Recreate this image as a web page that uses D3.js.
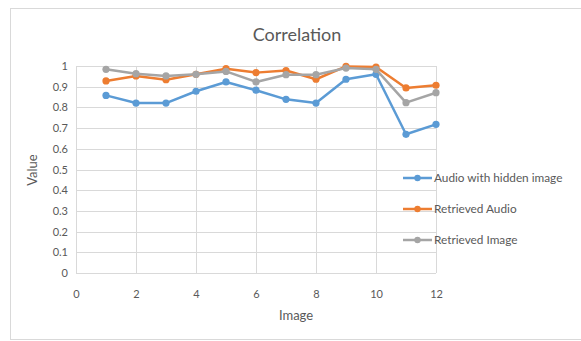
<!DOCTYPE html>
<html>
<head>
<meta charset="utf-8">
<script src="https://cdn.jsdelivr.net/npm/d3@7"></script>
<style>
  html, body { margin: 0; padding: 0; background: #fff; }
  svg text { font-family: Lato, "Open Sans", sans-serif; fill: #595959; }
</style>
</head>
<body>
<svg id="chart" width="581" height="341"></svg>
<script>
// Image index (x) and correlation values for each series
const images = [1, 2, 3, 4, 5, 6, 7, 8, 9, 10, 11, 12];
const audioHidden   = [0.858, 0.821, 0.821, 0.878, 0.923, 0.883, 0.839, 0.821, 0.936, 0.960, 0.670, 0.718];
const retrievedAudio = [0.928, 0.952, 0.934, 0.960, 0.987, 0.968, 0.978, 0.936, 0.998, 0.995, 0.894, 0.907];
const retrievedImage = [0.984, 0.963, 0.952, 0.960, 0.974, 0.923, 0.958, 0.958, 0.990, 0.984, 0.823, 0.871];
const seriesNames = ["Audio with hidden image", "Retrieved Audio", "Retrieved Image"];
const xTicks = [0, 2, 4, 6, 8, 10, 12];
const yTicks = [0, 0.1, 0.2, 0.3, 0.4, 0.5, 0.6, 0.7, 0.8, 0.9, 1];

const series = [
  { name: seriesNames[0], values: audioHidden,    color: "#5b9bd5" },
  { name: seriesNames[1], values: retrievedAudio, color: "#ed7d31" },
  { name: seriesNames[2], values: retrievedImage, color: "#a5a5a5" }
];

const svg = d3.select("#chart");

// Outer chart frame (its right edge runs past the page)
svg.append("rect")
  .attr("x", 10.5).attr("y", 8.5)
  .attr("width", 600).attr("height", 331)
  .attr("fill", "#fff").attr("stroke", "#d9d9d9").attr("stroke-width", 1);

const plot = { left: 76, right: 436, top: 66, bottom: 273 };
const x = d3.scaleLinear().domain([0, 12]).range([plot.left, plot.right]);
const y = d3.scaleLinear().domain([0, 1]).range([plot.bottom, plot.top]);

// Gridlines
svg.append("g")
  .selectAll("line")
  .data(yTicks)
  .join("line")
  .attr("x1", plot.left).attr("x2", plot.right)
  .attr("y1", d => Math.round(y(d)) + 0.5).attr("y2", d => Math.round(y(d)) + 0.5)
  .attr("stroke", "#d9d9d9").attr("stroke-width", 1);

svg.append("g")
  .selectAll("line")
  .data(xTicks)
  .join("line")
  .attr("x1", d => Math.round(x(d)) + 0.5).attr("x2", d => Math.round(x(d)) + 0.5)
  .attr("y1", plot.top).attr("y2", plot.bottom)
  .attr("stroke", "#d9d9d9").attr("stroke-width", 1);

const tickColor = "#666666";

// Axes (labels only; lines come from the grid)
const yAxis = d3.axisLeft(y).tickValues(yTicks).tickSize(0).tickPadding(8)
  .tickFormat(d => d3.format("")(+d.toFixed(1)));
svg.append("g")
  .attr("transform", `translate(${plot.left},0)`)
  .call(yAxis)
  .call(g => g.select(".domain").remove())
  .call(g => g.selectAll("text").attr("font-size", 11).attr("fill", tickColor)
    .style("font-family", "Lato, 'Open Sans', sans-serif"));

const xAxis = d3.axisBottom(x).tickValues(xTicks).tickSize(0).tickPadding(17);
svg.append("g")
  .attr("transform", `translate(0,${plot.bottom})`)
  .call(xAxis)
  .call(g => g.select(".domain").remove())
  .call(g => g.selectAll("text").attr("font-size", 11).attr("fill", tickColor)
    .style("font-family", "Lato, 'Open Sans', sans-serif"));

// Series lines and markers
const line = d3.line().x((d, i) => x(images[i])).y(d => y(d));
series.forEach(s => {
  svg.append("path")
    .datum(s.values)
    .attr("d", line)
    .attr("fill", "none")
    .attr("stroke", s.color)
    .attr("stroke-width", 2.5)
    .attr("stroke-linejoin", "round");
  svg.append("g")
    .selectAll("circle")
    .data(s.values)
    .join("circle")
    .attr("cx", (d, i) => x(images[i]))
    .attr("cy", d => y(d))
    .attr("r", 3.6)
    .attr("fill", s.color);
});

// Title and axis titles
svg.append("text")
  .attr("x", 297).attr("y", 41)
  .attr("text-anchor", "middle")
  .attr("font-size", 18)
  .text("Correlation");

svg.append("text")
  .attr("transform", "translate(37,170) rotate(-90)")
  .attr("text-anchor", "middle")
  .attr("font-size", 13)
  .text("Value");

svg.append("text")
  .attr("x", 296).attr("y", 320)
  .attr("text-anchor", "middle")
  .attr("font-size", 13)
  .text("Image");

// Legend
const legend = svg.append("g");
series.forEach((s, i) => {
  const ly = 178 + i * 31;
  legend.append("line")
    .attr("x1", 403).attr("x2", 432)
    .attr("y1", ly).attr("y2", ly)
    .attr("stroke", s.color).attr("stroke-width", 2.5);
  legend.append("circle")
    .attr("cx", 417.5).attr("cy", ly).attr("r", 3.2)
    .attr("fill", s.color);
  legend.append("text")
    .attr("x", 434).attr("y", ly + 4)
    .attr("font-size", 11.8)
    .text(s.name);
});
</script>
</body>
</html>
